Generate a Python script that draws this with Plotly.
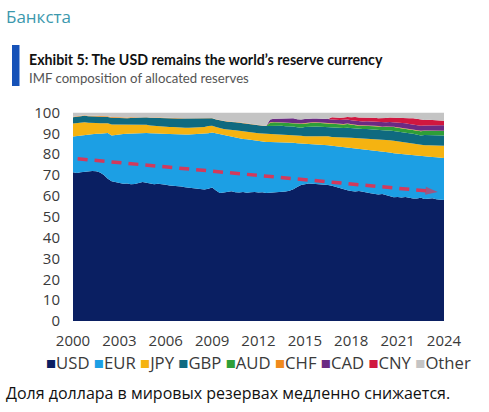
import plotly.graph_objects as go

# ---------------- data (quarterly, 2000Q1 .. 2024Q1) ----------------
years = [2000 + 0.25 * i for i in range(97)]

usd = [71.4, 71.0, 71.3, 71.5, 71.6, 72.0, 71.8, 71.2, 70.0, 68.2, 67.0, 66.5,
       66.2, 65.8, 65.9, 65.6, 65.7, 66.2, 66.7, 66.3, 66.0, 65.6, 65.8, 65.4,
       65.3, 65.0, 64.9, 64.7, 64.5, 64.2, 64.0, 63.8, 63.5, 63.3, 63.1, 63.4,
       64.0, 62.6, 61.4, 61.6, 61.9, 62.2, 61.8, 61.6, 61.9, 61.5, 61.7, 61.9,
       61.6, 61.8, 61.4, 61.5, 61.7, 61.6, 61.9, 62.1, 62.5, 63.2, 64.3, 65.2,
       65.6, 65.9, 65.8, 65.7, 65.5, 65.4, 65.2, 64.9, 64.3, 63.6, 63.2, 62.7,
       62.4, 62.1, 62.3, 61.8, 61.6, 61.3, 60.9, 60.7, 60.9, 60.4, 59.8, 59.3,
       59.5, 59.2, 59.5, 59.0, 58.8, 58.7, 59.1, 58.5, 58.6, 58.9, 58.4, 58.2,
       58.0]
eur = [17.1, 17.7, 17.7, 17.8, 17.9, 17.8, 18.0, 18.6, 20.0, 22.0, 22.0, 22.8,
       23.4, 23.9, 23.9, 24.3, 24.3, 23.8, 23.4, 23.9, 24.0, 24.2, 24.1, 24.4,
       24.4, 24.6, 24.7, 24.8, 25.0, 25.3, 25.5, 25.8, 26.1, 26.4, 26.5, 26.6,
       26.4, 27.4, 28.1, 27.6, 26.9, 26.0, 26.2, 26.0, 25.4, 25.7, 25.2, 24.7,
       24.7, 24.3, 24.5, 24.3, 24.1, 24.1, 23.9, 23.6, 23.1, 22.3, 21.0, 20.0,
       19.4, 19.0, 19.0, 19.1, 19.2, 19.1, 19.1, 19.1, 19.5, 20.0, 20.3, 20.6,
       20.7, 20.8, 20.4, 20.7, 20.7, 20.7, 20.8, 20.7, 20.3, 20.6, 21.0, 21.2,
       20.8, 20.9, 20.5, 20.7, 20.6, 20.5, 19.8, 20.3, 20.1, 19.7, 20.1, 20.2,
       20.2]
jpy = [6.2, 6.3, 6.1, 6.0, 5.6, 5.4, 5.2, 5.0, 4.8, 4.6, 5.3, 5.0,
       4.4, 4.3, 4.2, 4.2, 4.1, 4.0, 3.9, 3.9, 3.8, 3.8, 3.7, 3.7,
       3.6, 3.5, 3.4, 3.3, 3.2, 3.2, 3.2, 3.2, 3.3, 3.3, 3.4, 3.5,
       3.2, 3.0, 2.9, 2.9, 3.0, 3.3, 3.5, 3.7, 3.7, 3.6, 3.6, 3.6,
       3.7, 3.8, 3.9, 4.0, 4.0, 3.9, 3.9, 3.8, 3.9, 3.9, 3.8, 3.7,
       3.6, 3.7, 3.8, 3.8, 3.9, 4.1, 4.3, 4.2, 4.4, 4.6, 4.6, 4.9,
       4.8, 4.9, 5.0, 5.2, 5.3, 5.4, 5.5, 5.6, 5.7, 5.8, 5.9, 6.0,
       5.9, 5.8, 5.7, 5.6, 5.5, 5.4, 5.4, 5.5, 5.6, 5.6, 5.6, 5.7,
       5.8]
gbp = [3.0, 3.0, 3.0, 3.1, 3.1, 3.1, 3.1, 3.2, 3.2, 3.1, 3.2, 3.1,
       3.3, 3.3, 3.3, 3.3, 3.4, 3.5, 3.5, 3.6, 3.7, 3.8, 3.8, 3.9,
       4.0, 4.1, 4.2, 4.3, 4.4, 4.4, 4.4, 4.3, 4.2, 4.1, 4.0, 3.8,
       3.6, 3.6, 3.7, 3.8, 3.8, 3.8, 3.8, 3.8, 3.8, 3.7, 3.7, 3.7,
       3.7, 3.7, 3.7, 3.8, 3.9, 3.9, 3.9, 3.9, 3.9, 3.9, 3.8, 3.8,
       4.4, 4.6, 4.7, 4.7, 4.6, 4.5, 4.4, 4.4, 4.4, 4.4, 4.5, 4.5,
       4.6, 4.5, 4.4, 4.4, 4.5, 4.5, 4.5, 4.6, 4.4, 4.6, 4.7, 4.7,
       4.7, 4.7, 4.8, 4.8, 4.9, 4.9, 4.7, 4.9, 4.9, 4.9, 4.9, 4.9,
       5.0]
aud = [0.0] * 51 + [1.5,
       1.6, 1.7, 1.8, 1.8, 1.8, 1.8, 1.8, 1.8, 1.8, 1.8, 1.8, 1.8,
       1.8, 1.8, 1.8, 1.8, 1.7, 1.7, 1.7, 1.8, 1.7, 1.7, 1.6, 1.6,
       1.6, 1.7, 1.7, 1.7, 1.7, 1.7, 1.8, 1.8, 1.8, 1.8, 1.8, 1.8,
       1.9, 1.9, 2.0, 2.0, 2.0, 2.0, 2.1, 2.1, 2.1]
chf = [0.3] * 16 + [0.2] * 81
cad = [0.0] * 51 + [1.4,
       1.5, 1.6, 1.7, 1.8, 1.9, 1.9, 1.9, 1.9, 1.9, 1.9, 1.8, 1.8,
       1.9, 1.9, 1.9, 2.0, 1.9, 1.9, 2.0, 2.0, 1.9, 1.9, 1.9, 1.8,
       1.9, 1.9, 1.9, 1.9, 2.0, 2.0, 2.0, 2.1, 2.2, 2.3, 2.4, 2.4,
       2.4, 2.4, 2.4, 2.4, 2.5, 2.5, 2.6, 2.6, 2.6]
cny = [0.0] * 67 + [1.1,
       1.1, 1.1, 1.1, 1.2, 1.4, 1.8, 1.8, 1.9, 1.9, 2.0, 2.0, 1.9,
       2.0, 2.1, 2.2, 2.3, 2.4, 2.6, 2.7, 2.8, 2.9, 2.9, 2.8, 2.6,
       2.6, 2.5, 2.4, 2.3, 2.2]
other = [2.0, 1.7, 1.6, 1.3, 1.5, 1.4, 1.6, 1.7, 1.7, 1.8, 2.2, 2.3,
         2.4, 2.4, 2.4, 2.3, 2.3, 2.3, 2.3, 2.1, 2.3, 2.4, 2.4, 2.4,
         2.5, 2.6, 2.6, 2.7, 2.7, 2.7, 2.7, 2.7, 2.7, 2.7, 2.8, 2.5,
         2.6, 3.2, 3.7, 3.9, 4.2, 4.5, 4.5, 4.7, 5.0, 5.3, 5.6, 5.9,
         6.1, 6.2, 6.3, 3.3, 3.0, 3.0, 2.7, 2.8, 2.7, 2.8, 3.2, 3.4,
         3.1, 2.9, 2.9, 2.9, 2.9, 3.0, 3.1, 2.3, 2.5, 2.5, 2.4, 2.1,
         2.3, 2.1, 2.4, 2.4, 2.3, 2.3, 2.5, 2.7, 2.8, 2.6, 2.4, 2.4,
         2.5, 2.5, 2.4, 2.7, 2.8, 3.1, 3.6, 3.6, 3.5, 3.7, 3.7, 3.8,
         3.9]

series_names = ["USD", "EUR", "JPY", "GBP", "AUD", "CHF", "CAD", "CNY", "Other"]
series_values = [usd, eur, jpy, gbp, aud, chf, cad, cny, other]
series_colors = ["#0a1f62", "#1c9fe4", "#f5b311", "#0f6a80", "#2e9e38",
                 "#f08a1c", "#6b2a83", "#d0173f", "#c4c4c4"]

# dashed downward trend arrow (start / end)
trend_x = [2000.3, 2023.6]
trend_y = [77.8, 61.9]

x_ticks = [2000, 2003, 2006, 2009, 2012, 2015, 2018, 2021, 2024]
y_ticks = list(range(0, 101, 10))

# ---------------- figure ----------------
fig = go.Figure()
for name, vals, col in zip(series_names, series_values, series_colors):
    fig.add_trace(go.Scatter(
        x=years, y=vals, name=name, mode="lines",
        stackgroup="one", groupnorm="percent",
        line=dict(width=0, color=col), fillcolor=col,
        showlegend=False, hoverinfo="skip"))

fig.add_trace(go.Scatter(
    x=trend_x, y=trend_y, mode="lines+markers",
    line=dict(color="#d23a5c", width=3.5, dash="10px,7px"),
    marker=dict(symbol="arrow", angleref="previous", size=[0, 13],
                color="#d23a5c", line=dict(width=0)),
    showlegend=False, hoverinfo="skip"))

W, H = 489, 412
tick_font = dict(family="Open Sans, Noto Sans, sans-serif", size=15, color="#3a3a3a")

fig.update_layout(
    width=W, height=H,
    margin=dict(l=0, r=0, t=0, b=0),
    paper_bgcolor="white", plot_bgcolor="white",
    showlegend=False,
    xaxis=dict(domain=[73 / W, 444 / W], range=[2000, 2024],
               tickvals=x_ticks, ticktext=[str(v) for v in x_ticks],
               showgrid=False, zeroline=False, showline=False,
               automargin=False,
               ticks="", ticklabelstandoff=9, tickfont=tick_font),
    yaxis=dict(domain=[1 - 321 / H, 1 - 112.5 / H], range=[0, 100],
               tickvals=y_ticks, showgrid=False, zeroline=False,
               showline=False, ticks="", ticklabelstandoff=12,
               automargin=False,
               tickfont=tick_font),
)

# blue accent bar next to the exhibit title
fig.add_shape(type="rect", xref="paper", yref="paper",
              x0=12 / W, x1=19.5 / W, y0=1 - 86 / H, y1=1 - 45 / H,
              fillcolor="#1652b8", line=dict(width=0))

ann_font = "Open Sans, Noto Sans, sans-serif"
fig.add_annotation(xref="paper", yref="paper", x=4 / W, y=1 - 17 / H,
                   xanchor="left", yanchor="middle", showarrow=False,
                   text="Банкста",
                   font=dict(family=ann_font, size=17, color="#3b98ad"))
fig.add_annotation(xref="paper", yref="paper", x=27 / W, y=1 - 59 / H,
                   xanchor="left", yanchor="middle", showarrow=False,
                   text="<b>Exhibit 5: The USD remains the world’s reserve currency</b>",
                   font=dict(family="Lato, Open Sans, sans-serif", size=14.2, color="#111111"))
fig.add_annotation(xref="paper", yref="paper", x=27 / W, y=1 - 78 / H,
                   xanchor="left", yanchor="middle", showarrow=False,
                   text="IMF composition of allocated reserves",
                   font=dict(family="Lato, Open Sans, sans-serif", size=13.2, color="#555555"))

legend_text = " ".join(
    f'<span style="color:{c}">■</span>{n}'
    for n, c in zip(series_names, series_colors))
fig.add_annotation(xref="paper", yref="paper", x=258 / W, y=1 - 362 / H,
                   xanchor="center", yanchor="middle", showarrow=False,
                   text=legend_text,
                   font=dict(family=ann_font, size=16.7, color="#3a3a3a"))

fig.add_annotation(xref="paper", yref="paper", x=4 / W, y=1 - 393 / H,
                   xanchor="left", yanchor="middle", showarrow=False,
                   text="Доля доллара в мировых резервах медленно снижается.",
                   font=dict(family=ann_font, size=16, color="#111111"))

fig.write_html("out.html",
               config={"displayModeBar": False},
               post_script="document.body.style.margin='0px';document.body.style.overflow='hidden';")
